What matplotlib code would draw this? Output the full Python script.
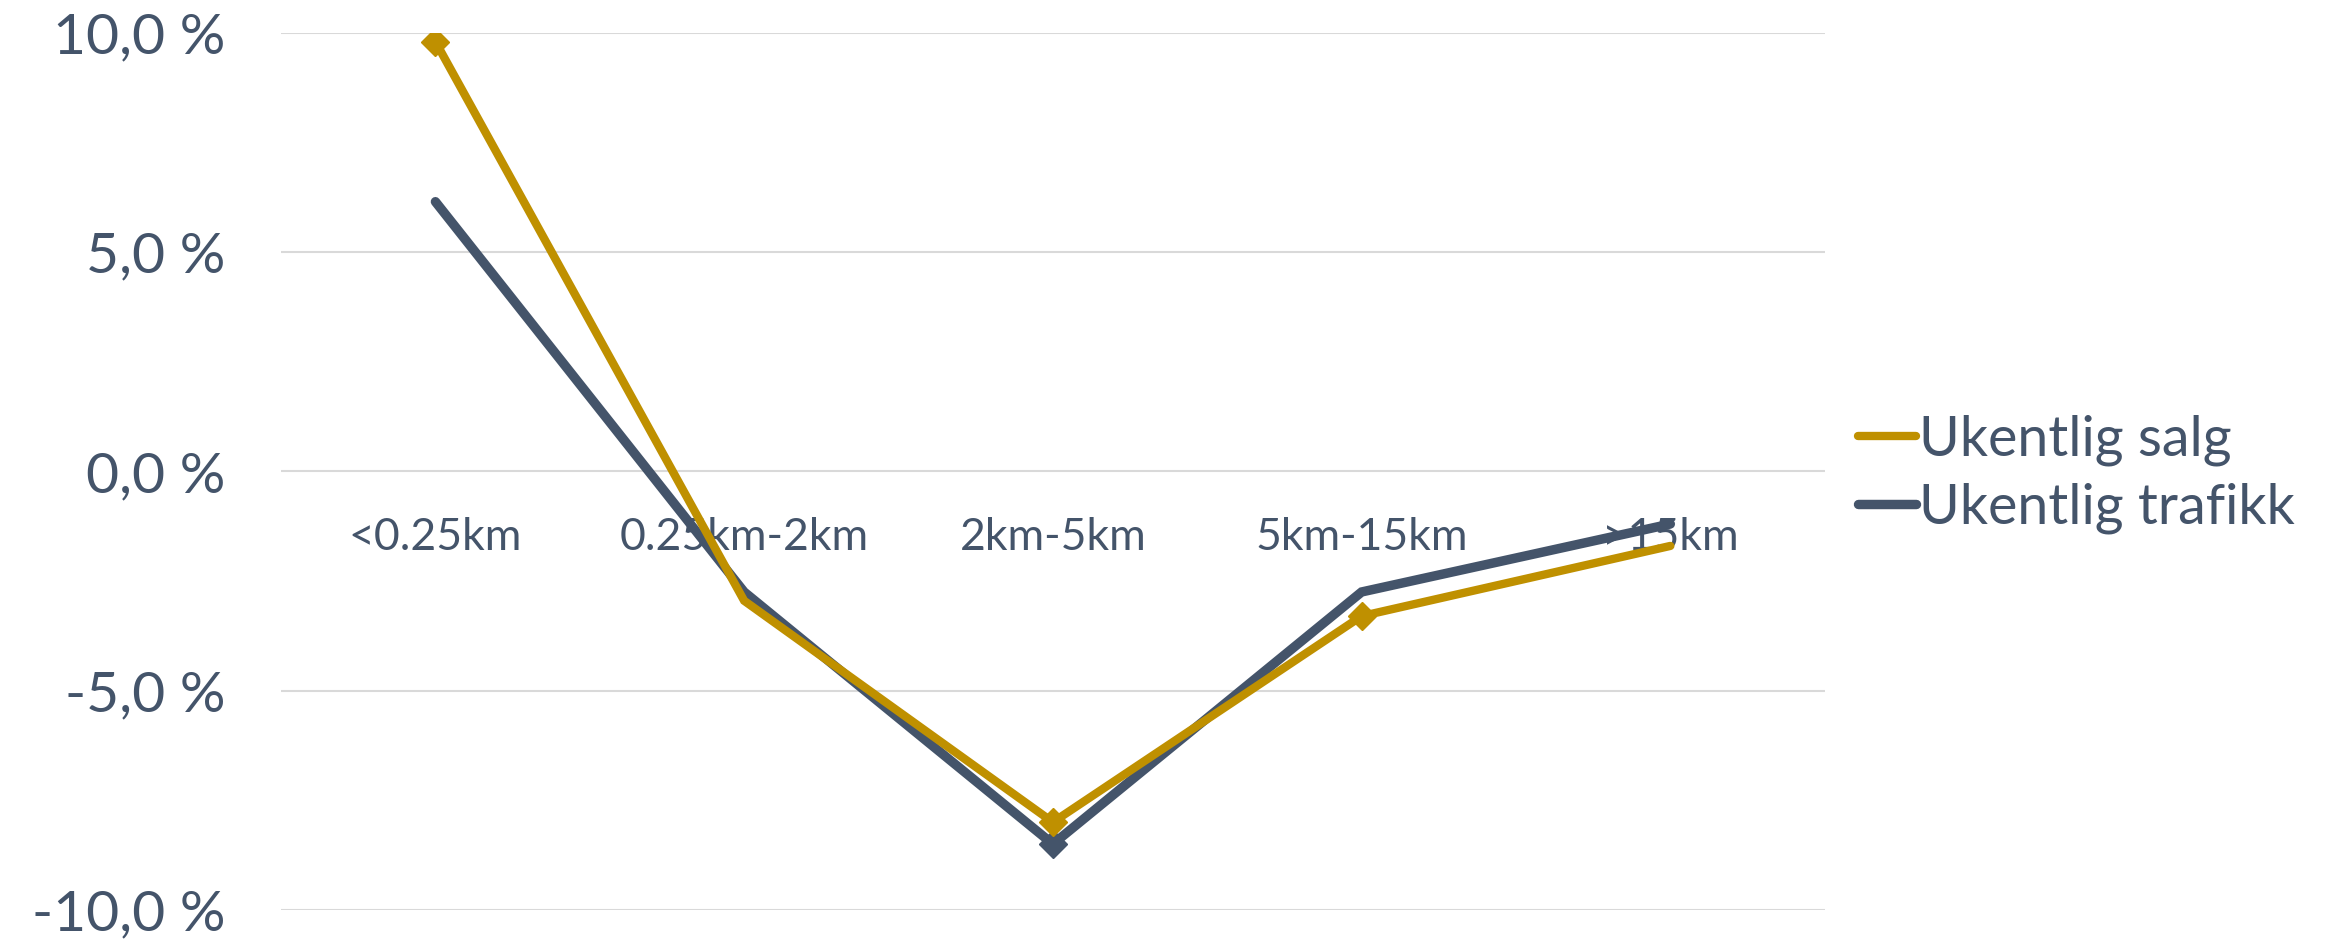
import matplotlib
matplotlib.use('Agg')
import matplotlib.pyplot as plt

categories = ['<0.25km', '0.25km-2km', '2km-5km', '5km-15km', '>15km']
salg = [9.8, -2.95, -8.0, -3.3, -1.7]
trafikk = [6.15, -2.75, -8.5, -2.75, -1.2]
yticks = [-10, -5, 0, 5, 10]

gold = '#BF9000'
navy = '#44546A'
grid = '#D9D9D9'

plt.rcParams['font.family'] = ['Lato', 'DejaVu Sans']

fig = plt.figure(figsize=(23.46, 9.39), dpi=100)
ax = fig.add_axes([0.1198, 0.031, 0.658, 0.934])

x = list(range(len(categories)))
l1, = ax.plot(x, salg, color=gold, lw=6, marker='D', markersize=14,
              markevery=[0, 2, 3], solid_capstyle='round', solid_joinstyle='miter',
              zorder=4, label='Ukentlig salg')
l2, = ax.plot(x, trafikk, color=navy, lw=6.8, marker='D', markersize=14,
              markevery=[2], solid_capstyle='round', solid_joinstyle='miter',
              zorder=3, label='Ukentlig trafikk')

ax.set_xlim(-0.5, len(categories) - 0.5)
ax.set_ylim(-10, 10)
ax.set_yticks(yticks)
ax.set_yticklabels([f'{v:.1f} %'.replace('.', ',') for v in yticks])
ax.yaxis.grid(True, color=grid, lw=1.5)
ax.set_axisbelow(True)

for s in ['top', 'right', 'left']:
    ax.spines[s].set_visible(False)
# category labels sit just under the zero line, as in Excel
ax.spines['bottom'].set_position(('data', 0))
ax.spines['bottom'].set_visible(False)

ax.set_xticks(x)
ax.set_xticklabels(categories)
ax.tick_params(axis='x', length=0, pad=33, labelsize=32, labelcolor=navy)
ax.tick_params(axis='y', length=0, pad=40, labelsize=41, labelcolor=navy)

fig.legend(handles=[l1, l2], loc='center left', bbox_to_anchor=(0.792, 0.495),
           frameon=False, fontsize=40, labelcolor=navy, handlelength=1.05,
           handletextpad=0.05, borderpad=0, borderaxespad=0, labelspacing=0.3)
for h in fig.legends[0].legend_handles:
    h.set_marker('')
    h.set_solid_capstyle('round')

fig.savefig('out.png', dpi=100)
